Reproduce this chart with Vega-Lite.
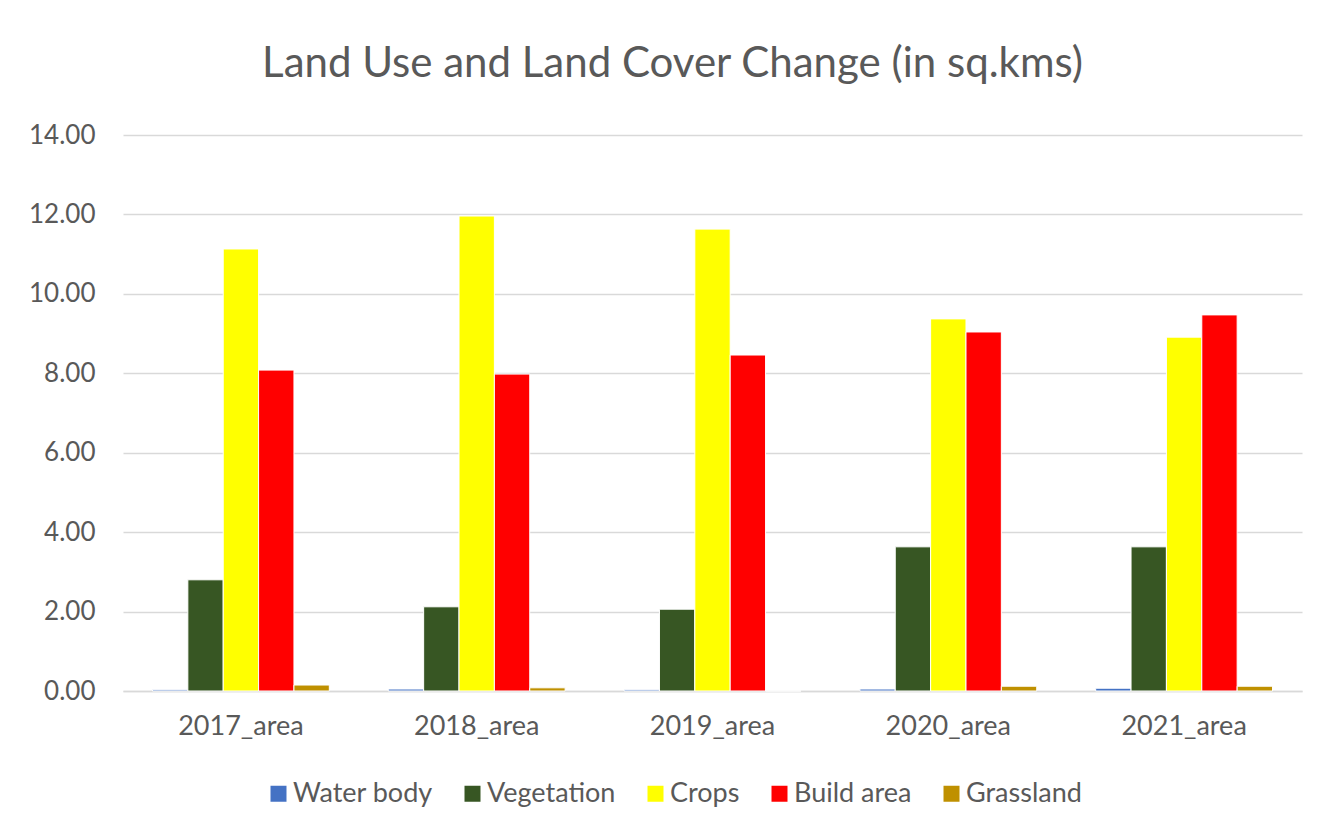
{
  "$schema": "https://vega.github.io/schema/vega-lite/v6.json",
  "autosize": "none",
  "width": 1179,
  "height": 556,
  "padding": {"left": 123, "top": 135, "right": 25, "bottom": 141},
  "background": "white",
  "title": {
    "text": "Land Use and Land Cover Change (in sq.kms)",
    "fontSize": 42,
    "font": "Lato",
    "fontWeight": "normal",
    "color": "#595959",
    "anchor": "middle",
    "dx": -40,
    "offset": 36
  },
  "data": {
    "values": [
      {"year": "2017_area", "class": "Water body", "area": 0.03},
      {"year": "2017_area", "class": "Vegetation", "area": 2.80},
      {"year": "2017_area", "class": "Crops", "area": 11.13},
      {"year": "2017_area", "class": "Build area", "area": 8.08},
      {"year": "2017_area", "class": "Grassland", "area": 0.15},
      {"year": "2018_area", "class": "Water body", "area": 0.05},
      {"year": "2018_area", "class": "Vegetation", "area": 2.12},
      {"year": "2018_area", "class": "Crops", "area": 11.96},
      {"year": "2018_area", "class": "Build area", "area": 7.98},
      {"year": "2018_area", "class": "Grassland", "area": 0.08},
      {"year": "2019_area", "class": "Water body", "area": 0.03},
      {"year": "2019_area", "class": "Vegetation", "area": 2.06},
      {"year": "2019_area", "class": "Crops", "area": 11.63},
      {"year": "2019_area", "class": "Build area", "area": 8.46},
      {"year": "2019_area", "class": "Grassland", "area": 0.0},
      {"year": "2020_area", "class": "Water body", "area": 0.05},
      {"year": "2020_area", "class": "Vegetation", "area": 3.63},
      {"year": "2020_area", "class": "Crops", "area": 9.37},
      {"year": "2020_area", "class": "Build area", "area": 9.04},
      {"year": "2020_area", "class": "Grassland", "area": 0.12},
      {"year": "2021_area", "class": "Water body", "area": 0.07},
      {"year": "2021_area", "class": "Vegetation", "area": 3.63},
      {"year": "2021_area", "class": "Crops", "area": 8.91},
      {"year": "2021_area", "class": "Build area", "area": 9.47},
      {"year": "2021_area", "class": "Grassland", "area": 0.12}
    ]
  },
  "mark": {"type": "bar", "stroke": "white", "strokeWidth": 1},
  "encoding": {
    "x": {
      "field": "year",
      "type": "nominal",
      "title": null,
      "scale": {"paddingInner": 0.25, "paddingOuter": 0.125},
      "axis": {
        "labelAngle": 0,
        "labelFont": "Lato",
        "labelFontSize": 27,
        "labelColor": "#595959",
        "labelPadding": 22,
        "ticks": false,
        "domainColor": "#d9d9d9",
        "domainWidth": 1.5
      }
    },
    "xOffset": {
      "field": "class",
      "type": "nominal",
      "sort": ["Water body", "Vegetation", "Crops", "Build area", "Grassland"],
      "scale": {"paddingInner": 0, "paddingOuter": 0}
    },
    "y": {
      "field": "area",
      "type": "quantitative",
      "title": null,
      "scale": {"domain": [0, 14], "nice": false},
      "axis": {
        "values": [0, 2, 4, 6, 8, 10, 12, 14],
        "format": ".2f",
        "labelFont": "Lato",
        "labelFontSize": 26,
        "labelColor": "#595959",
        "labelPadding": 28,
        "ticks": false,
        "domain": false,
        "gridColor": "#d9d9d9",
        "gridWidth": 1.5
      }
    },
    "color": {
      "field": "class",
      "type": "nominal",
      "sort": ["Water body", "Vegetation", "Crops", "Build area", "Grassland"],
      "scale": {
        "domain": ["Water body", "Vegetation", "Crops", "Build area", "Grassland"],
        "range": ["#4472C4", "#375623", "#FFFF00", "#FF0000", "#BF9000"]
      },
      "legend": {
        "title": null,
        "orient": "none",
        "direction": "horizontal",
        "legendX": 142,
        "legendY": 645,
        "symbolType": "square",
        "symbolSize": 256,
        "symbolStrokeWidth": 0,
        "labelFont": "Lato",
        "labelFontSize": 27,
        "labelColor": "#595959",
        "columnPadding": 26,
        "labelOffset": 1
      }
    }
  },
  "config": {"view": {"stroke": null}}
}
